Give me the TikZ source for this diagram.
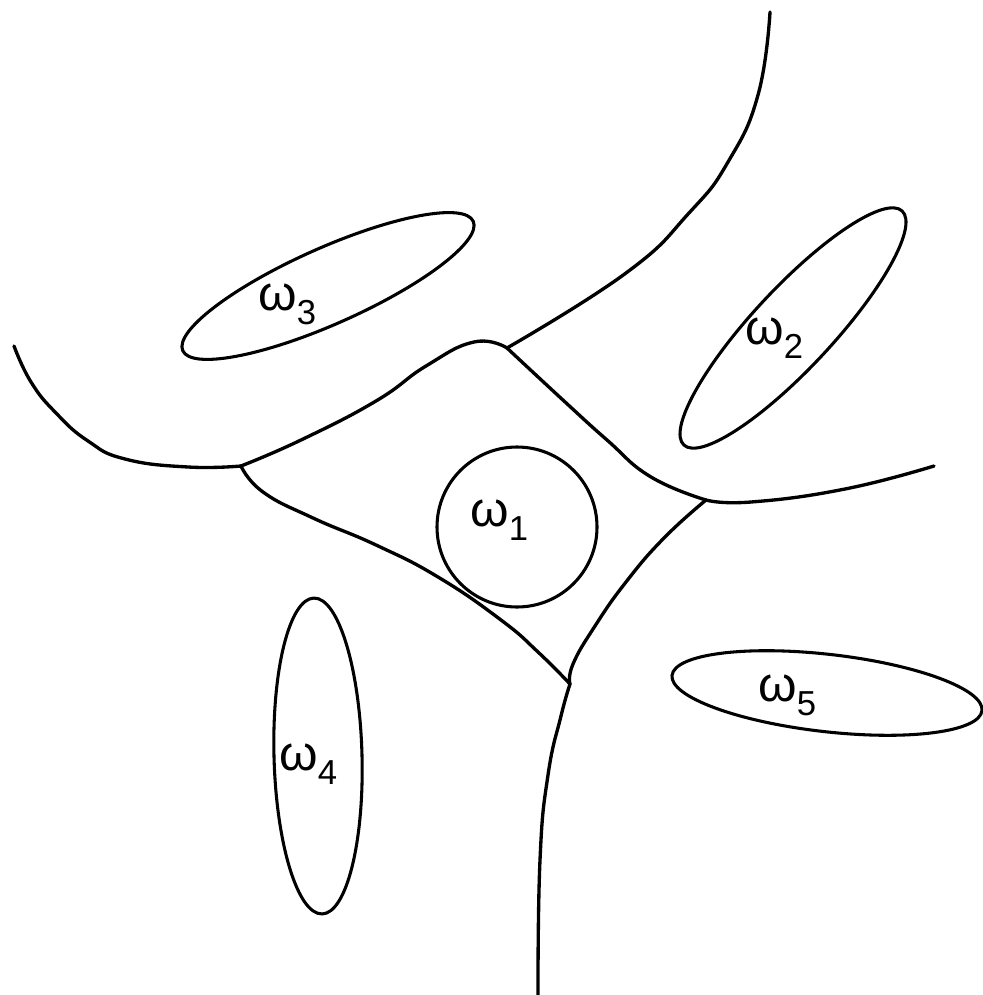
\documentclass[tikz,border=0pt]{standalone}
\usepackage{fontspec}
\setmainfont{Liberation Sans}
\usetikzlibrary{shapes.geometric}
\newcommand{\omlab}[1]{{\fontsize{37}{40}\selectfont ω}\raisebox{-11pt}{\fontsize{26}{28}\selectfont #1}}
\tikzset{
  bound/.style={line width=2.5pt, line cap=round, line join=round},
  region/.style={draw, ellipse, line width=2.3pt, inner sep=0pt},
  lab/.style={anchor=base west, inner sep=0pt}
}
\begin{document}
\begin{tikzpicture}[x=0.75pt, y=-0.75pt]
\useasboundingbox (0,0) rectangle (982,995);
% junctions
\coordinate (Jl) at (241,466);
\coordinate (Jt) at (507,348);
\coordinate (Jr) at (706,500);
\coordinate (Jb) at (570,684);
\coordinate (Etop) at (770,12);
\coordinate (Eleft) at (14,346);
\coordinate (Eright) at (934,466);
\coordinate (Ebot) at (538,995);
% boundaries
\draw[bound] plot[smooth, tension=0.8] coordinates {(Etop) (758,95) (728,162) (689,213) (626,273) (Jt)};
\draw[bound] plot[smooth, tension=0.8] coordinates {(Eleft) (31,382) (56,413) (88,441) (125,459) (188,467) (Jl)};
\draw[bound] plot[smooth, tension=0.8] coordinates {(Jl) (301,440) (376,401) (426,366) (474,342) (Jt)};
\draw[bound] plot[smooth, tension=0.8] coordinates {(Jt) (564,401) (607,440) (651,477) (Jr)};
\draw[bound] plot[smooth, tension=0.8] coordinates {(Jr) (751,502) (845,489) (Eright)};
\draw[bound] plot[smooth, tension=0.8] coordinates {(Jl) (263,492) (313,518) (376,545) (438,577) (501,620) (538,652) (Jb)};
\draw[bound] plot[smooth, tension=0.8] coordinates {(Jr) (664,538) (626,582) (595,626) (573,664) (Jb)};
\draw[bound] plot[smooth, tension=0.8] coordinates {(Jb) (561,716) (548,775) (540,860) (Ebot)};
% regions
\node[region, circle, minimum size=120pt] (w1) at (517,527) {};
\node[region, minimum width=240pt, minimum height=60pt, rotate=47] (w2) at (793,328) {};
\node[region, minimum width=238.5pt, minimum height=57pt, rotate=24] (w3) at (328,286) {};
\node[region, minimum width=237pt, minimum height=66pt, rotate=91.5] (w4) at (318,756) {};
\node[region, minimum width=234pt, minimum height=58pt, rotate=-6.5] (w5) at (827,693) {};
% labels
\node[lab] (l1) at (470,526) {\omlab{1}};
\node[lab] (l2) at (745,344) {\omlab{2}};
\node[lab] (l3) at (258,310) {\omlab{3}};
\node[lab] (l4) at (279,770) {\omlab{4}};
\node[lab] (l5) at (758,701) {\omlab{5}};
\end{tikzpicture}
\end{document}
